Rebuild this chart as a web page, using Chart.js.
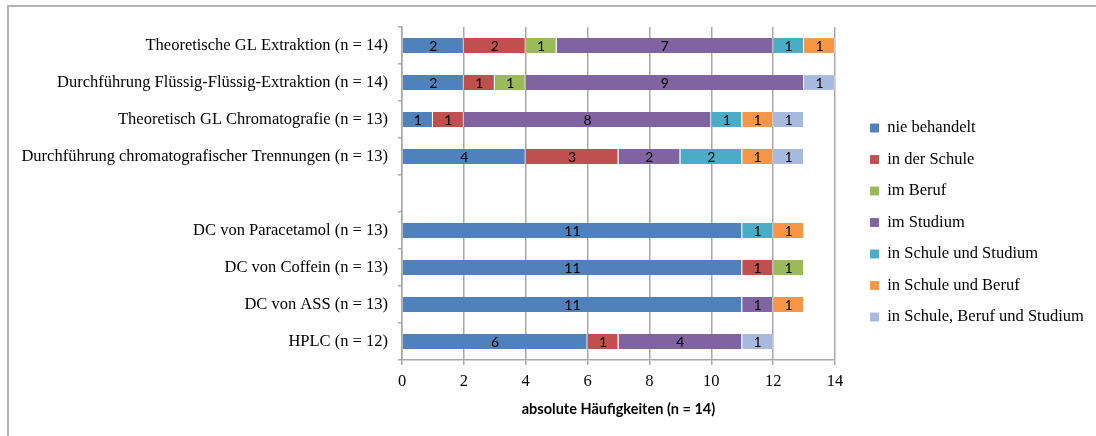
<!DOCTYPE html>
<html>
<head>
<meta charset="utf-8">
<script src="https://cdn.jsdelivr.net/npm/chart.js@4.4.1/dist/chart.umd.min.js"></script>
<style>
  body { margin: 0; background: #fff; }
  #wrap { position: relative; width: 1096px; height: 436px; overflow: hidden; }
  #frame {
    position: absolute; left: 7px; top: 5px; width: 1100px; height: 440px;
    border-top: 2px solid #b4b4b4; border-left: 2px solid #b4b4b4;
  }
  #salesChart { position: absolute; left: 0; top: 0; }
</style>
</head>
<body>
<div id="wrap">
  <div id="frame"></div>
  <canvas id="salesChart" width="1096" height="436"></canvas>
</div>
<script>
const categories = [
  "Theoretische GL Extraktion (n = 14)",
  "Durchführung Flüssig-Flüssig-Extraktion (n = 14)",
  "Theoretisch GL Chromatografie (n = 13)",
  "Durchführung chromatografischer Trennungen (n = 13)",
  "",
  "DC von Paracetamol (n = 13)",
  "DC von Coffein (n = 13)",
  "DC von ASS (n = 13)",
  "HPLC (n = 12)"
];

const seriesNames = [
  "nie behandelt",
  "in der Schule",
  "im Beruf",
  "im Studium",
  "in Schule und Studium",
  "in Schule und Beruf",
  "in Schule, Beruf und Studium"
];

const nieBehandelt = [2, 2, 1, 4, 0, 11, 11, 11, 6];
const inDerSchule = [2, 1, 1, 3, 0, 0, 1, 0, 1];
const imBeruf = [1, 1, 0, 0, 0, 0, 1, 0, 0];
const imStudium = [7, 9, 8, 2, 0, 0, 0, 1, 4];
const inSchuleUndStudium = [1, 0, 1, 2, 0, 1, 0, 0, 0];
const inSchuleUndBeruf = [1, 0, 1, 1, 0, 1, 0, 1, 0];
const inSchuleBerufStudium = [0, 1, 1, 1, 0, 0, 0, 0, 1];

const xTitle = "absolute Häufigkeiten (n = 14)";

const seriesValues = [
  nieBehandelt, inDerSchule, imBeruf, imStudium,
  inSchuleUndStudium, inSchuleUndBeruf, inSchuleBerufStudium
];
const colors = ["#4F81BD", "#C0504D", "#9BBB59", "#8064A2", "#4BACC6", "#F79646", "#A7B9DC"];

const gridGray = "#a8a8a8";
const serif = "'Liberation Serif', 'Times New Roman', serif";
const sans = "Lato, 'Liberation Sans', Arial, sans-serif";

// numbers in the middle of every segment
const segmentLabels = {
  id: "segmentLabels",
  afterDatasetsDraw(chart) {
    const { ctx } = chart;
    ctx.save();
    ctx.font = "14px " + sans;
    ctx.fillStyle = "#000";
    ctx.textAlign = "center";
    ctx.textBaseline = "middle";
    chart.data.datasets.forEach((ds, i) => {
      chart.getDatasetMeta(i).data.forEach((bar, j) => {
        const v = ds.data[j];
        if (!v) return;
        const p = bar.getCenterPoint();
        ctx.fillText(String(v), p.x, p.y + 1);
      });
    });
    ctx.restore();
  }
};

// put the legend where the original has it
const legendPlace = {
  id: "legendPlace",
  afterLayout(chart) {
    const lg = chart.legend;
    lg.left = 855;
    lg.right = 1096;
    lg.width = lg.right - lg.left;
    lg.top = 104.75;
    lg.bottom = 436;
    lg.height = lg.bottom - lg.top;
  }
};

const ctx = document.getElementById("salesChart").getContext("2d");

new Chart(ctx, {
  type: "bar",
  data: {
    labels: categories,
    datasets: seriesValues.map((vals, i) => ({
      label: seriesNames[i],
      data: vals,
      backgroundColor: colors[i],
      borderColor: "rgba(255,255,255,0.45)",
      borderWidth: { left: 0, right: 1, top: 0, bottom: 0 },
      borderSkipped: false,
      barPercentage: 0.4,
      categoryPercentage: 1
    }))
  },
  options: {
    indexAxis: "y",
    responsive: false,
    animation: false,
    devicePixelRatio: 1,
    layout: { padding: { top: 27, right: 161, bottom: 0, left: 0 } },
    plugins: {
      legend: {
        display: true,
        position: "right",
        align: "start",
        maxWidth: 100,
        labels: {
          boxWidth: 9,
          boxHeight: 9,
          padding: 15,
          color: "#000",
          font: { family: serif, size: 16.5 }
        }
      },
      tooltip: { enabled: false }
    },
    scales: {
      x: {
        stacked: true,
        min: 0,
        max: 14,
        afterFit(scale) { scale.height = 76; },
        ticks: {
          stepSize: 2,
          padding: 7,
          color: "#000",
          font: { family: serif, size: 16.5 }
        },
        grid: {
          color: gridGray,
          lineWidth: 1.5,
          drawTicks: true,
          tickLength: 5
        },
        border: { display: true, color: gridGray, width: 1.5 },
        title: {
          display: true,
          text: xTitle,
          color: "#000",
          padding: { top: 0, bottom: 18 },
          font: { family: sans, size: 14.5, weight: "bold" }
        }
      },
      y: {
        stacked: true,
        afterFit(scale) { scale.width = 402; },
        ticks: {
          padding: 10,
          color: "#000",
          autoSkip: false,
          font: { family: serif, size: 16.5 }
        },
        grid: {
          drawOnChartArea: false,
          drawTicks: true,
          tickLength: 4,
          color: gridGray,
          lineWidth: 1.5
        },
        border: { display: true, color: gridGray, width: 1.5 }
      }
    }
  },
  plugins: [segmentLabels, legendPlace]
});
</script>
</body>
</html>
